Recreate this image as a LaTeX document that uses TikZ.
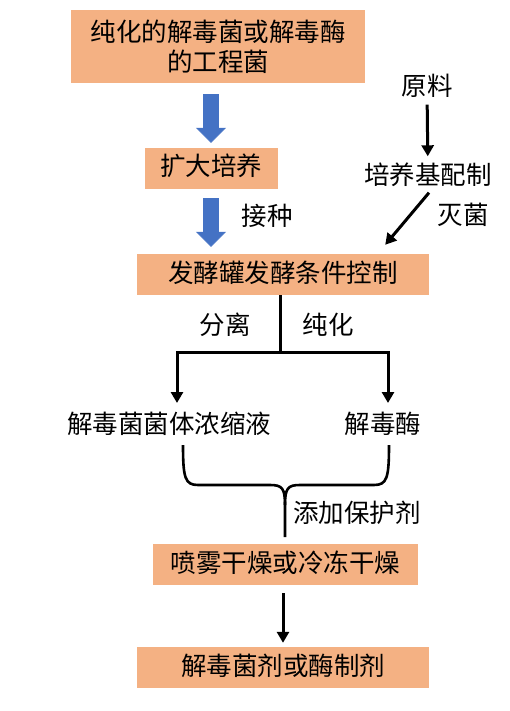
\documentclass[tikz,border=0pt]{standalone}
\usepackage{fontspec}
\usepackage{tikz}
\usetikzlibrary{arrows.meta,calc}
\newfontfamily\cjk{Noto Sans CJK SC}
\definecolor{boxorange}{HTML}{F4B183}
\definecolor{arrowblue}{HTML}{4472C4}

\begin{document}
\begin{tikzpicture}[x=1pt,y=-1pt,
  >={Triangle[width=12pt,length=11pt]},
  every node/.style={font=\cjk\fontsize{25.5}{30}\selectfont, text height=20pt, text depth=5pt, inner sep=3pt},
  box/.style={fill=boxorange, minimum height=41pt, inner sep=0pt},
  flow/.style={line width=3pt, ->},
  blueflow/.style={line width=16pt, arrowblue, -{Triangle[width=30pt,length=15pt,line width=0.5pt,fill=arrowblue]}},
  bracket/.style={line width=2.6pt}]
\useasboundingbox (0,0) rectangle (510,711);

% boxes
\node[box, minimum width=294pt, minimum height=73pt, align=center, text height=, text depth=] (pure) at (218,46.5) {纯化的解毒菌或解毒酶\\的工程菌};
\node[box, minimum width=133pt] (expand) at (211,168.5) {扩大培养};
\node[box, minimum width=292pt] (ferment) at (283,274.5) {发酵罐发酵条件控制};
\node[box, minimum width=265pt] (dry) at (285.5,564.5) {喷雾干燥或冷冻干燥};
\node[box, minimum width=292pt] (product) at (283,667.5) {解毒菌剂或酶制剂};

% plain texts
\node (raw) at (427,88) {原料};
\node (medium) at (428,177) {培养基配制};
\node (conc) at (169,426) {解毒菌菌体浓缩液};
\node (enzyme) at (383,426) {解毒酶};

% labels
\node (inoc) at (267,218) {接种};
\node (steril) at (463,217) {灭菌};
\node (separ) at (225,327) {分离};
\node (purif) at (328,327) {纯化};
\node (protect) at (357,515) {添加保护剂};

% blue arrows
\draw[blueflow] ([yshift=-11pt]pure.south -| expand.north) -- ([yshift=5pt]expand.north);
\draw[blueflow] ([yshift=-9pt]expand.south) -- ([yshift=7pt]expand.north |- ferment.north);

% medium branch
\draw[flow, shorten <=1pt, shorten >=5pt] (raw) -- (medium);
\draw[flow] ([xshift=1pt]medium.south) -- ([xshift=-44pt,yshift=9pt]ferment.north east);

% split
\coordinate (split) at (280,352);
\coordinate (lt) at (177,403);
\coordinate (rt) at (388,403);
\draw[flow] (ferment.south -| split) -- (split) -| (lt);
\draw[flow] (split) -| (rt);

% bracket
\coordinate (tip) at (285,537);
\draw[bracket] (183,445) .. controls (183,478) and (185,485) .. (198,485) -- (270,485)
  .. controls (282,485) and (285,488) .. (285,505) -- (tip);
\draw[bracket] (389,445) .. controls (389,478) and (387,485) .. (374,485) -- (300,485)
  .. controls (288,485) and (285,488) .. (285,505);

% last arrow
\draw[flow, shorten <=8pt, shorten >=4pt] (dry.south -| product.north) -- (product.north);
\end{tikzpicture}
\end{document}
